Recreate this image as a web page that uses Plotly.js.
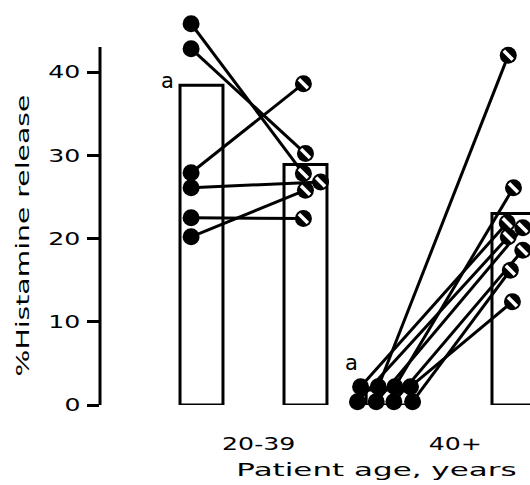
<!DOCTYPE html>
<html>
<head>
<meta charset="utf-8">
<script src="https://cdn.plot.ly/plotly-3.0.1.min.js"></script>
<style>
  html, body { margin: 0; padding: 0; background: #fff; }
  #chart { width: 530px; height: 485px; }
</style>
</head>
<body>
<div id="chart"></div>
<script>
// ---------- data ----------
const groups = ["20-39", "40+"];
const barBefore = [38.4, 1.8];          // open bar, first condition
const barAfter  = [28.9, 23.0];         // open bar, second condition

// individual patients, 20-39 years
const youngBefore = [45.8, 42.8, 27.9, 26.1, 22.5, 20.2];
const youngAfter  = [27.8, 30.2, 38.6, 26.8, 22.4, 25.8];
// individual patients, 40+ years
const oldBefore = [2.2, 2.2, 2.2, 2.2, 0.4, 0.4, 0.4, 0.4];
const oldAfter  = [21.9, 42.0, 26.1, 12.4, 20.2, 21.3, 18.6, 16.2];

const signifLabel = "a";
const yTitle = "%Histamine release";
const xTitle = "Patient age, years";

// ---------- display layout (positions on the x axis, not data) ----------
const slotX = { "20-39": [1, 2], "40+": [2.79, 4] };   // bar slots per group
const groupLabelX = [1.55, 3.44];
const barWidth = 0.413;
const youngBeforeJit = [-0.1, -0.1, -0.1, -0.1, -0.1, -0.1];
const youngAfterJit  = [-0.02, 0, -0.02, 0.145, -0.02, 0];
const oldBeforeJit = [-0.26, -0.09, 0.07, 0.22, -0.29, -0.11, 0.06, 0.24];
const oldAfterJit  = [-0.06, -0.05, 0, -0.01, -0.05, 0.09, 0.09, -0.03];

// ---------- build traces ----------
const barX = [slotX["20-39"][0], slotX["20-39"][1], slotX["40+"][0], slotX["40+"][1]];
const barY = [barBefore[0], barAfter[0], barBefore[1], barAfter[1]];

const barTrace = {
  type: "bar", x: barX, y: barY, width: barWidth,
  marker: { color: "#ffffff", line: { color: "#000000", width: 3 } },
  cliponaxis: false, hoverinfo: "skip", showlegend: false
};

function pairs(before, after, x0, x1, jb, ja) {
  const lx = [], ly = [], bx = [], ax = [];
  before.forEach((v, i) => {
    const xb = x0 + jb[i], xa = x1 + ja[i];
    lx.push(xb, xa, null); ly.push(v, after[i], null);
    bx.push(xb); ax.push(xa);
  });
  return { lx, ly, bx, ax };
}
const py = pairs(youngBefore, youngAfter, slotX["20-39"][0], slotX["20-39"][1], youngBeforeJit, youngAfterJit);
const po = pairs(oldBefore, oldAfter, slotX["40+"][0], slotX["40+"][1], oldBeforeJit, oldAfterJit);

const lineTrace = {
  type: "scatter", mode: "lines",
  x: py.lx.concat(po.lx), y: py.ly.concat(po.ly),
  line: { color: "#000000", width: 3 }, connectgaps: false,
  hoverinfo: "skip", showlegend: false
};
const beforeDots = {
  type: "scatter", mode: "markers",
  x: py.bx.concat(po.bx), y: youngBefore.concat(oldBefore),
  marker: { symbol: "circle", size: 17, color: "#000000" },
  cliponaxis: false, hoverinfo: "skip", showlegend: false
};
const afterDots = {
  type: "scatter", mode: "markers",
  x: py.ax.concat(po.ax), y: youngAfter.concat(oldAfter),
  marker: { symbol: "circle", size: 17, color: "#000000" },
  cliponaxis: false, hoverinfo: "skip", showlegend: false
};
const afterHatch = {
  type: "scatter", mode: "markers",
  x: py.ax.concat(po.ax), y: youngAfter.concat(oldAfter),
  marker: { symbol: "line-nw", size: 9, color: "#ffffff", line: { color: "#ffffff", width: 3.5 } },
  cliponaxis: false, hoverinfo: "skip", showlegend: false
};

const font = { family: "DejaVu Sans, Verdana, sans-serif", size: 18, color: "#000000" };
const smallFont = { family: "DejaVu Sans, Verdana, sans-serif", size: 21, color: "#000000" };

const layout = {
  width: 530, height: 485,
  margin: { l: 100, r: 0, t: 0, b: 80, pad: 0 },
  paper_bgcolor: "#ffffff", plot_bgcolor: "#ffffff",
  font: font, showlegend: false, bargap: 0,
  xaxis: {
    range: [0.024, 4.159], showline: false, showgrid: false, zeroline: false,
    ticks: "", ticklen: 0, tickvals: groupLabelX, ticktext: groups,
    tickfont: font, ticklabelstandoff: 26, fixedrange: true
  },
  yaxis: {
    range: [0, 48.65], showline: false, showgrid: false, zeroline: false,
    ticks: "outside", ticklen: 12, tickwidth: 3, tickcolor: "#000000",
    tickvals: [0, 10, 20, 30, 40], tickfont: font, ticklabelstandoff: 3,
    fixedrange: true
  },
  shapes: [{
    type: "line", xref: "paper", x0: 0, x1: 0, yref: "y", y0: 0, y1: 43,
    line: { color: "#000000", width: 3 }, layer: "above"
  }],
  annotations: [
    { text: signifLabel, xref: "x", yref: "y", x: 0.673, y: 38.9, showarrow: false,
      font: smallFont, xanchor: "center", yanchor: "middle" },
    { text: signifLabel, xref: "x", yref: "y", x: 2.44, y: 5.0, showarrow: false,
      font: smallFont, xanchor: "center", yanchor: "middle" },
    { text: xTitle, xref: "paper", yref: "paper", x: 0.644, y: -0.16, showarrow: false,
      font: font, xanchor: "center", yanchor: "middle" },
    { text: yTitle, xref: "paper", yref: "paper", x: -0.181, y: 0.417, showarrow: false,
      font: font, textangle: -90, xanchor: "center", yanchor: "middle" }
  ]
};

Plotly.newPlot("chart", [barTrace, lineTrace, beforeDots, afterDots, afterHatch], layout,
  { staticPlot: true, displayModeBar: false }).then(function () {
  // the reference lettering is horizontally stretched; widen glyphs to match
  function stretch(el, f) {
    const w = el.getComputedTextLength();
    if (w > 0) {
      el.setAttribute("textLength", (w * f).toFixed(1));
      el.setAttribute("lengthAdjust", "spacingAndGlyphs");
    }
  }
  document.querySelectorAll(".ytick text, .xtick text").forEach(t => stretch(t, 1.4));
  document.querySelectorAll(".annotation-text").forEach(t => {
    if (t.textContent === xTitle) stretch(t, 1.72);
    else if (t.textContent === yTitle) stretch(t, 1.57);
  });
});
</script>
</body>
</html>
